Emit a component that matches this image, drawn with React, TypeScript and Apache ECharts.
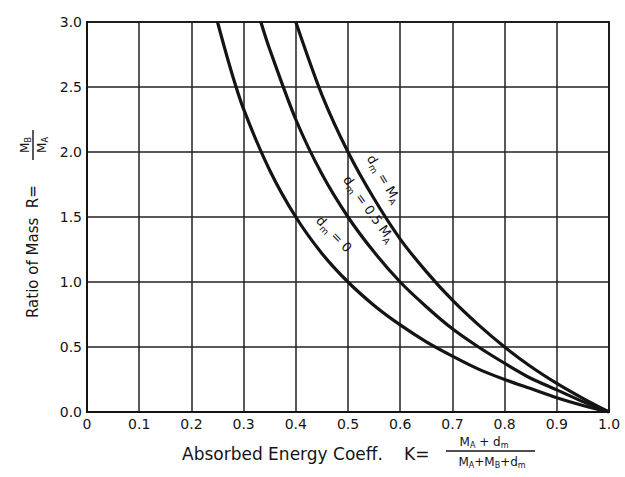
import React, { useEffect, useRef } from "react";
import * as echarts from "echarts";

const xTicks = [0, 0.1, 0.2, 0.3, 0.4, 0.5, 0.6, 0.7, 0.8, 0.9, 1.0];
const yTicks = [0, 0.5, 1.0, 1.5, 2.0, 2.5, 3.0];

// dm = 0
const kDm0 = [0.25, 0.275, 0.3, 0.35, 0.4, 0.45, 0.5, 0.55, 0.6, 0.65, 0.7, 0.75, 0.8, 0.85, 0.9, 0.95, 1.0];
const rDm0 = [3.0, 2.64, 2.33, 1.86, 1.5, 1.22, 1.0, 0.82, 0.67, 0.54, 0.43, 0.33, 0.25, 0.18, 0.11, 0.05, 0.0];
// dm = 0.5 MA
const kDmHalf = [0.333, 0.35, 0.4, 0.45, 0.5, 0.55, 0.6, 0.65, 0.7, 0.75, 0.8, 0.85, 0.9, 0.95, 1.0];
const rDmHalf = [3.0, 2.79, 2.25, 1.83, 1.5, 1.23, 1.0, 0.81, 0.64, 0.5, 0.375, 0.26, 0.17, 0.08, 0.0];
// dm = MA
const kDmFull = [0.4, 0.45, 0.5, 0.55, 0.6, 0.65, 0.7, 0.75, 0.8, 0.85, 0.9, 0.95, 1.0];
const rDmFull = [3.0, 2.44, 2.0, 1.64, 1.33, 1.08, 0.86, 0.67, 0.5, 0.35, 0.22, 0.105, 0.0];

const FONT = "DejaVu Sans";
const INK = "#141414";

const zip = (a: number[], b: number[]) => a.map((v, i) => [v, b[i]]);

const richStyle = {
  a: { fontSize: 13, fontFamily: FONT, fill: INK, verticalAlign: "middle", lineHeight: 18 },
  s: { fontSize: 9, fontFamily: FONT, fill: INK, verticalAlign: "bottom", lineHeight: 18 },
};
const fracRich = {
  a: { fontSize: 12, fontFamily: FONT, fill: INK, verticalAlign: "middle", lineHeight: 15 },
  s: { fontSize: 8, fontFamily: FONT, fill: INK, verticalAlign: "bottom", lineHeight: 15 },
};

export default function App() {
  const ref = useRef<HTMLDivElement>(null);
  useEffect(() => {
    if (!ref.current) return;
    const chart = echarts.init(ref.current, null, { renderer: "svg" });
    const lineSeries = (name: string, data: number[][]) => ({
      name,
      type: "line",
      data,
      smooth: 0.3,
      symbol: "none",
      lineStyle: { color: INK, width: 3.2 },
      z: 5,
    });
    chart.setOption({
      animation: false,
      backgroundColor: "#fff",
      grid: {
        left: 87,
        right: 16,
        top: 22,
        bottom: 65,
        show: true,
        borderColor: INK,
        borderWidth: 2,
        backgroundColor: "transparent",
      },
      xAxis: {
        type: "value",
        min: 0,
        max: 1.0,
        interval: 0.1,
        axisLine: { show: true, lineStyle: { color: INK, width: 2 } },
        axisTick: { show: false },
        splitLine: { show: true, lineStyle: { color: "#222", width: 1.5 } },
        axisLabel: {
          color: INK,
          fontFamily: FONT,
          fontSize: 14,
          margin: 5,
          formatter: (v: number) => (v === 0 ? "0" : v.toFixed(1)),
        },
      },
      yAxis: {
        type: "value",
        min: 0,
        max: 3.0,
        interval: 0.5,
        axisLine: { show: true, lineStyle: { color: INK, width: 2 } },
        axisTick: { show: false },
        splitLine: { show: true, lineStyle: { color: "#222", width: 1.5 } },
        axisLabel: {
          color: INK,
          fontFamily: FONT,
          fontSize: 14,
          margin: 5,
          formatter: (v: number) => v.toFixed(1),
        },
      },
      series: [
        lineSeries("dm=0", zip(kDm0, rDm0)),
        lineSeries("dm=0.5MA", zip(kDmHalf, rDmHalf)),
        lineSeries("dm=MA", zip(kDmFull, rDmFull)),
      ],
      graphic: [
        // curve labels
        {
          type: "text",
          x: 384,
          y: 179,
          rotation: -1.04,
          z: 10,
          style: {
            text: "{a|d}{s|m}{a| = M}{s|A}",
            rich: richStyle,
            align: "center",
            verticalAlign: "middle",
          },
        },
        {
          type: "text",
          x: 369,
          y: 209,
          rotation: -0.95,
          z: 10,
          style: {
            text: "{a|d}{s|m}{a| = 0.5 M}{s|A}",
            rich: richStyle,
            align: "center",
            verticalAlign: "middle",
          },
        },
        {
          type: "text",
          x: 334,
          y: 234,
          rotation: -0.8,
          z: 10,
          style: {
            text: "{a|d}{s|m}{a| = 0}",
            rich: richStyle,
            align: "center",
            verticalAlign: "middle",
          },
        },
        // x axis title
        {
          type: "text",
          x: 182,
          y: 454,
          style: {
            text: "Absorbed Energy Coeff.",
            fontFamily: FONT,
            fontSize: 17,
            fill: INK,
            align: "left",
            verticalAlign: "middle",
          },
        },
        {
          type: "text",
          x: 404,
          y: 454,
          style: {
            text: "K=",
            fontFamily: FONT,
            fontSize: 17,
            fill: INK,
            align: "left",
            verticalAlign: "middle",
          },
        },
        {
          type: "text",
          x: 484,
          y: 442,
          style: {
            text: "{a|M}{s|A}{a| + d}{s|m}",
            rich: fracRich,
            align: "center",
            verticalAlign: "middle",
          },
        },
        {
          type: "line",
          shape: { x1: 446, y1: 451, x2: 535, y2: 451 },
          style: { stroke: INK, lineWidth: 1.4 },
        },
        {
          type: "text",
          x: 492,
          y: 462,
          style: {
            text: "{a|M}{s|A}{a|+M}{s|B}{a|+d}{s|m}",
            rich: fracRich,
            align: "center",
            verticalAlign: "middle",
          },
        },
        // y axis title (rotated)
        {
          type: "group",
          x: 33,
          y: 318,
          rotation: Math.PI / 2,
          children: [
            {
              type: "text",
              x: 0,
              y: 0,
              style: {
                text: "Ratio of Mass  R=",
                fontFamily: FONT,
                fontSize: 15,
                fill: INK,
                align: "left",
                verticalAlign: "middle",
              },
            },
            {
              type: "text",
              x: 173,
              y: -8,
              style: {
                text: "{a|M}{s|B}",
                rich: fracRich,
                align: "center",
                verticalAlign: "middle",
              },
            },
            {
              type: "line",
              shape: { x1: 158, y1: 0, x2: 188, y2: 0 },
              style: { stroke: INK, lineWidth: 1.4 },
            },
            {
              type: "text",
              x: 173,
              y: 9,
              style: {
                text: "{a|M}{s|A}",
                rich: fracRich,
                align: "center",
                verticalAlign: "middle",
              },
            },
          ],
        },
      ],
    });
    return () => chart.dispose();
  }, []);
  return (
    <div
      ref={ref}
      style={{ position: "fixed", left: 0, top: 0, width: 625, height: 477, background: "#fff" }}
    />
  );
}
